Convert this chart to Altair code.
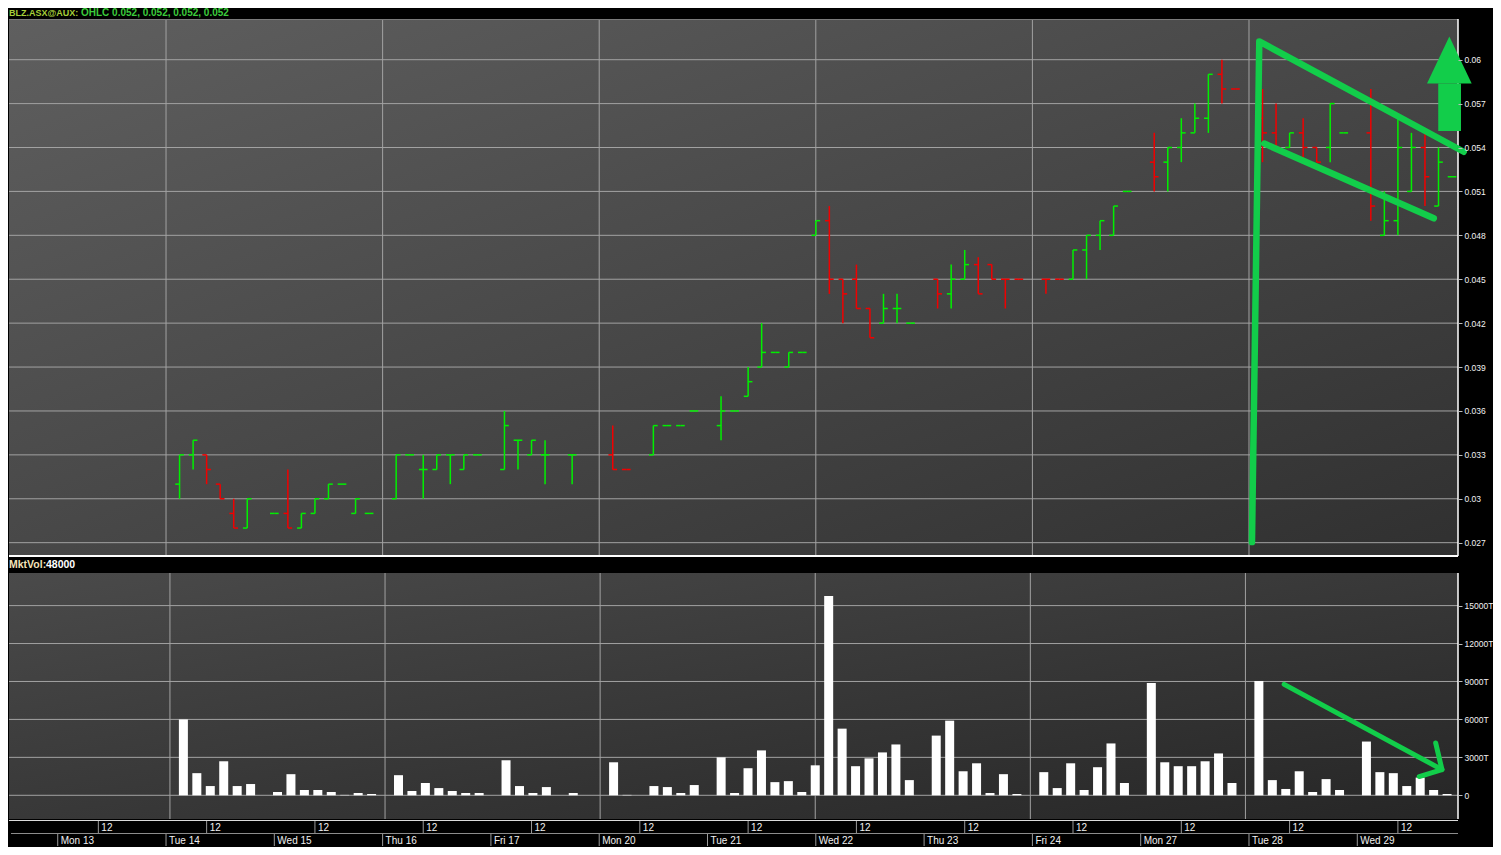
import altair as alt
import pandas as pd

# ---------------- data ----------------
TITLE_SYMBOL = "BLZ.ASX@AUX:"
TITLE_OHLC = "OHLC 0.052, 0.052, 0.052, 0.052"
VOL_LABEL = "MktVol:"
VOL_VALUE = "48000"

day_labels = ["Mon 13", "Tue 14", "Wed 15", "Thu 16", "Fri 17", "Mon 20", "Tue 21",
              "Wed 22", "Thu 23", "Fri 24", "Mon 27", "Tue 28", "Wed 29"]
midday_label = "12"
grid_days = [1, 3, 5, 7, 9, 11]          # vertical grid lines at start of these days

# bar slot index (8 slots per trading day, Mon 13 starts at slot 0)
slot = [9, 10, 11, 12, 13, 14,
        16, 17, 18, 19, 20, 21, 22, 23,
        25, 26, 27, 28, 29, 30, 31,
        33, 34, 35, 36, 38,
        41, 42, 44, 45, 46, 47,
        49, 50, 51, 52, 53, 54, 55, 56, 57, 58, 59, 60, 61, 62, 63,
        65, 66, 67, 68, 69, 70, 71,
        73, 74, 75, 76, 77, 78, 79,
        81, 82, 83, 84, 85, 86, 87,
        89, 90, 91, 92, 93, 94, 95,
        97, 98, 99, 100, 101, 102, 103]

opens = [0.031, 0.033, 0.033, 0.031, 0.029, 0.028,
         0.029, 0.029, 0.028, 0.029, 0.030, 0.031, 0.029, 0.029,
         0.030, 0.033, 0.032, 0.032, 0.033, 0.032, 0.033,
         0.032, 0.034, 0.033, 0.033, 0.033,
         0.033, 0.032, 0.033, 0.035, 0.035, 0.036,
         0.035, 0.036, 0.037, 0.039, 0.040, 0.039, 0.040, 0.048, 0.049, 0.045, 0.045, 0.043, 0.042, 0.043, 0.042,
         0.045, 0.044, 0.045, 0.046, 0.046, 0.045, 0.045,
         0.045, 0.045, 0.045, 0.047, 0.048, 0.048, 0.051,
         0.053, 0.053, 0.054, 0.055, 0.056, 0.059, 0.058,
         0.056, 0.055, 0.054, 0.055, 0.054, 0.054, 0.055,
         0.055, 0.048, 0.049, 0.051, 0.054, 0.050, 0.052]
highs = [0.033, 0.034, 0.033, 0.031, 0.030, 0.030,
         0.029, 0.032, 0.029, 0.030, 0.031, 0.031, 0.030, 0.029,
         0.033, 0.033, 0.033, 0.033, 0.033, 0.033, 0.033,
         0.036, 0.034, 0.034, 0.034, 0.033,
         0.035, 0.032, 0.035, 0.035, 0.035, 0.036,
         0.037, 0.036, 0.039, 0.042, 0.040, 0.040, 0.040, 0.049, 0.050, 0.045, 0.046, 0.043, 0.044, 0.044, 0.042,
         0.045, 0.046, 0.047, 0.0465, 0.046, 0.045, 0.045,
         0.045, 0.045, 0.047, 0.048, 0.049, 0.050, 0.051,
         0.055, 0.054, 0.056, 0.057, 0.059, 0.060, 0.058,
         0.058, 0.057, 0.055, 0.056, 0.054, 0.057, 0.055,
         0.058, 0.051, 0.056, 0.055, 0.055, 0.054, 0.052]
lows = [0.030, 0.032, 0.031, 0.030, 0.028, 0.028,
        0.029, 0.028, 0.028, 0.029, 0.030, 0.031, 0.029, 0.029,
        0.030, 0.033, 0.030, 0.032, 0.031, 0.032, 0.033,
        0.032, 0.032, 0.033, 0.031, 0.031,
        0.032, 0.032, 0.033, 0.035, 0.035, 0.036,
        0.034, 0.036, 0.037, 0.039, 0.040, 0.039, 0.040, 0.048, 0.044, 0.042, 0.043, 0.041, 0.042, 0.042, 0.042,
        0.043, 0.043, 0.045, 0.044, 0.045, 0.043, 0.045,
        0.044, 0.045, 0.045, 0.045, 0.047, 0.048, 0.051,
        0.051, 0.051, 0.053, 0.055, 0.055, 0.057, 0.058,
        0.053, 0.054, 0.054, 0.053, 0.053, 0.053, 0.055,
        0.049, 0.048, 0.048, 0.051, 0.050, 0.050, 0.052]
closes = [0.033, 0.034, 0.032, 0.030, 0.028, 0.030,
          0.029, 0.028, 0.029, 0.030, 0.031, 0.031, 0.030, 0.029,
          0.033, 0.033, 0.032, 0.033, 0.033, 0.033, 0.033,
          0.035, 0.034, 0.034, 0.033, 0.033,
          0.032, 0.032, 0.035, 0.035, 0.035, 0.036,
          0.036, 0.036, 0.038, 0.040, 0.040, 0.040, 0.040, 0.049, 0.045, 0.044, 0.043, 0.041, 0.043, 0.043, 0.042,
          0.044, 0.045, 0.046, 0.044, 0.045, 0.045, 0.045,
          0.045, 0.045, 0.047, 0.048, 0.049, 0.050, 0.051,
          0.052, 0.054, 0.055, 0.056, 0.059, 0.058, 0.058,
          0.055, 0.054, 0.055, 0.054, 0.053, 0.057, 0.055,
          0.050, 0.049, 0.054, 0.054, 0.052, 0.053, 0.052]
dirs = ["u", "u", "d", "d", "d", "u",
        "u", "d", "u", "u", "u", "u", "u", "u",
        "u", "u", "u", "u", "u", "u", "u",
        "u", "u", "u", "u", "u",
        "d", "d", "u", "u", "u", "u",
        "u", "u", "u", "u", "u", "u", "u", "u", "d", "d", "d", "d", "u", "u", "u",
        "d", "u", "u", "d", "d", "d", "d",
        "d", "d", "u", "u", "u", "u", "u",
        "d", "u", "u", "u", "u", "d", "d",
        "d", "d", "u", "d", "d", "u", "u",
        "d", "u", "u", "u", "d", "u", "u"]
vols = [6000, 1750, 730, 2690, 730, 890,
        260, 1670, 420, 420, 260, 30, 180, 100,
        1590, 340, 970, 570, 340, 180, 180,
        2770, 730, 180, 650, 180,
        2610, 30, 730, 650, 180, 810,
        3000, 180, 2140, 3550, 1040, 1120, 260, 2370, 15760, 5270, 2300, 2920, 3390, 4020, 1200,
        4720, 5900, 1900, 2530, 180, 1670, 100,
        1830, 570, 2530, 420, 2220, 4100, 970,
        8870, 2610, 2300, 2300, 2690, 3310, 970,
        9030, 1200, 500, 1900, 260, 1280, 420,
        4250, 1830, 1750, 730, 1400, 420, 100]

price_ticks = [0.027, 0.030, 0.033, 0.036, 0.039, 0.042, 0.045, 0.048, 0.051, 0.054, 0.057, 0.060]
vol_ticks = [0, 3000, 6000, 9000, 12000, 15000]

# hand-drawn annotations (data coordinates: slot, price / volume)
flag_group = ["pole", "pole", "pole", "low", "low"]
flag_order = [0, 1, 2, 0, 1]
flag_slot = [88.22, 88.76, 103.86, 89.13, 101.65]
flag_price = [0.02704, 0.06125, 0.05371, 0.05427, 0.04916]
head_slot = [101.15, 102.80, 104.45]
head_top = [0.05837, 0.06159, 0.05837]
head_base = [0.05837, 0.05837, 0.05837]
shaft_slot = [101.98]
shaft_slot2 = [103.66]
shaft_top = [0.05837]
shaft_bottom = [0.05513]
varrow_group = ["line", "line", "head", "head", "head"]
varrow_order = [0, 1, 0, 1, 2]
varrow_slot = [90.88, 102.62, 102.15, 102.62, 100.93]
varrow_vol = [8773, 2031, 4141, 2031, 1484]

# ---------------- layout / style ----------------
W = 1449
XDOM = [-3.6, 103.44]
H1, PDOM = 537, [0.02609, 0.06278]
VBAR = 16                      # black label bar on top of the volume view
VPLOT, VLO, VHI = 246, -1875, 17578
H2 = VBAR + VPLOT
VDOM = [VLO, VHI + VBAR * (VHI - VLO) / VPLOT]
H3 = 26
GREEN = "#12cd4a"
GRID = "#a2a2a2"
FONT = "Liberation Sans"

xs = alt.Scale(domain=XDOM, nice=False, zero=False)
ysp = alt.Scale(domain=PDOM, nice=False, zero=False)
ysv = alt.Scale(domain=VDOM, nice=False, zero=False)
dir_scale = alt.Scale(domain=["u", "d"], range=["#00f000", "#f00000"])

axis_style = dict(orient="right", grid=False, domain=False,
                  tickColor="#bbbbbb", tickSize=4, labelColor="#f2f2f2", labelFont=FONT,
                  labelFontSize=8.5, labelPadding=2, labelOverlap=False, zindex=1)
ax_p = alt.Axis(values=price_ticks, labelExpr="format(datum.value, '.3~f')", **axis_style)
ax_v = alt.Axis(values=vol_ticks, labelExpr="datum.value == 0 ? '0' : datum.value + 'T'", **axis_style)

one = pd.DataFrame({"k": [0]})
ohlc = pd.DataFrame({"p": slot, "o": opens, "h": highs, "l": lows, "c": closes, "d": dirs})
vdf = pd.DataFrame({"p": slot, "v": vols})
gdf = pd.DataFrame({"day": grid_days})
ddf = pd.DataFrame({"day": list(range(len(day_labels))), "label": day_labels})
mdf = pd.DataFrame({"day": list(range(len(day_labels))), "label": [midday_label] * len(day_labels)})


def X(field):
    return alt.X(field, scale=xs, axis=None)


def background(y0, y1, c0, c1):
    grad = alt.LinearGradient(gradient="linear",
                              stops=[alt.GradientStop(color=c0, offset=0),
                                     alt.GradientStop(color=c1, offset=1)],
                              x1=0, y1=0, x2=1, y2=1)
    return alt.Chart(one).mark_rect(color=grad).encode(
        x=alt.value(0), x2=alt.value(W), y=alt.value(y0), y2=alt.value(y1))


def vgrid(y0, y1):
    return alt.Chart(gdf).transform_calculate(p="datum.day * 8").mark_rule(
        color=GRID, strokeWidth=1).encode(x=X("p:Q"), y=alt.value(y0), y2=alt.value(y1))


def border(y0, y1):
    return alt.Chart(one).mark_rule(color="#ffffff", strokeWidth=1.5).encode(
        x=alt.value(W), y=alt.value(y0), y2=alt.value(y1))


# ---------------- price panel ----------------
p_bg = background(0, H1, "#5f5f5f", "#303030")
p_hgrid = alt.Chart(pd.DataFrame({"t": price_ticks})).mark_rule(color=GRID, strokeWidth=1).encode(
    y=alt.Y("t:Q", scale=ysp, axis=ax_p, title=None), x=alt.value(0), x2=alt.value(W))
p_top = alt.Chart(one).mark_rule(color="#7a7a7a", strokeWidth=1).encode(
    x=alt.value(0), x2=alt.value(W), y=alt.value(0.5))
p_bottom = alt.Chart(one).mark_rule(color="#ffffff", strokeWidth=2).encode(
    x=alt.value(0), x2=alt.value(W), y=alt.value(H1))

col = alt.Color("d:N", scale=dir_scale, legend=None)
hl = alt.Chart(ohlc).mark_rule(strokeWidth=1.5).encode(
    x=X("p:Q"), y=alt.Y("l:Q", scale=ysp, axis=ax_p, title=None), y2="h:Q", color=col)
op = alt.Chart(ohlc).transform_calculate(pl="datum.p - 0.32").mark_rule(strokeWidth=1.5).encode(
    x=X("pl:Q"), x2="p:Q", y=alt.Y("o:Q", scale=ysp, axis=ax_p, title=None), color=col)
cl = alt.Chart(ohlc).transform_calculate(pr="datum.p + 0.32").mark_rule(strokeWidth=1.5).encode(
    x=X("p:Q"), x2="pr:Q", y=alt.Y("c:Q", scale=ysp, axis=ax_p, title=None), color=col)

flag = alt.Chart(pd.DataFrame({"g": flag_group, "i": flag_order, "p": flag_slot, "v": flag_price})).mark_line(
    color=GREEN, strokeWidth=6.5, strokeCap="round", strokeJoin="round").encode(
    x=X("p:Q"), y=alt.Y("v:Q", scale=ysp, axis=ax_p, title=None), detail="g:N", order="i:Q")
head = alt.Chart(pd.DataFrame({"p": head_slot, "t": head_top, "b": head_base})).mark_area(
    color=GREEN, opacity=1).encode(
    x=X("p:Q"), y=alt.Y("t:Q", scale=ysp, axis=ax_p, title=None, stack=None), y2="b:Q")
shaft = alt.Chart(pd.DataFrame({"p": shaft_slot, "p2": shaft_slot2, "t": shaft_top, "b": shaft_bottom})).mark_rect(
    color=GREEN).encode(x=X("p:Q"), x2="p2:Q", y=alt.Y("t:Q", scale=ysp, axis=ax_p, title=None), y2="b:Q")

t_sym = alt.Chart(one).mark_text(align="left", baseline="middle", font=FONT, fontSize=9,
                                 fontWeight="bold", color="#a6cf3a").encode(
    x=alt.value(0), y=alt.value(-6), text=alt.value(TITLE_SYMBOL))
t_ohlc = alt.Chart(one).mark_text(align="left", baseline="middle", font=FONT, fontSize=10,
                                  fontWeight="bold", color="#3ccc3c").encode(
    x=alt.value(72), y=alt.value(-6), text=alt.value(TITLE_OHLC))

price = alt.layer(p_bg, vgrid(0, H1), p_hgrid, p_top, hl, op, cl, border(0, H1), p_bottom,
                  flag, head, shaft, t_sym, t_ohlc).properties(width=W, height=H1)

# ---------------- volume panel ----------------
v_bg = background(VBAR, H2, "#4a4a4a", "#262626")
v_hgrid = alt.Chart(pd.DataFrame({"t": vol_ticks})).mark_rule(color=GRID, strokeWidth=1).encode(
    y=alt.Y("t:Q", scale=ysv, axis=ax_v, title=None), x=alt.value(0), x2=alt.value(W))
bars = alt.Chart(vdf).mark_bar(size=9, color="#ffffff").encode(
    x=X("p:Q"), y=alt.Y("v:Q", scale=ysv, axis=ax_v, title=None, stack=None), y2=alt.datum(0))
varrow = alt.Chart(pd.DataFrame({"g": varrow_group, "i": varrow_order, "p": varrow_slot, "v": varrow_vol})).mark_line(
    color=GREEN, strokeWidth=5, strokeCap="round", strokeJoin="round").encode(
    x=X("p:Q"), y=alt.Y("v:Q", scale=ysv, axis=ax_v, title=None), detail="g:N", order="i:Q")
t_vl = alt.Chart(one).mark_text(align="left", baseline="middle", font=FONT, fontSize=10.5,
                                fontWeight="bold", color="#f3e2b8").encode(
    x=alt.value(0), y=alt.value(VBAR / 2), text=alt.value(VOL_LABEL))
t_vv = alt.Chart(one).mark_text(align="left", baseline="middle", font=FONT, fontSize=10.5,
                                fontWeight="bold", color="#ffffff").encode(
    x=alt.value(37), y=alt.value(VBAR / 2), text=alt.value(VOL_VALUE))

volc = alt.layer(v_bg, vgrid(VBAR, H2), v_hgrid, bars, border(VBAR, H2), varrow,
                 t_vl, t_vv).properties(width=W, height=H2)

# ---------------- time strip ----------------
s_top = alt.Chart(one).mark_rule(color="#dcdcdc", strokeWidth=1.2).encode(
    x=alt.value(0), x2=alt.value(W), y=alt.value(0.5))
s_mid = alt.Chart(one).mark_rule(color="#8c8c8c", strokeWidth=1).encode(
    x=alt.value(2), x2=alt.value(W), y=alt.value(13.5))
m_sep = alt.Chart(mdf).transform_calculate(p="datum.day * 8 + 3").mark_rule(
    color="#9a9a9a", strokeWidth=1).encode(x=X("p:Q"), y=alt.value(1), y2=alt.value(13))
m_txt = alt.Chart(mdf).transform_calculate(p="datum.day * 8 + 3").mark_text(
    align="left", baseline="middle", dx=3, font=FONT, fontSize=10, color="#f0f0f0").encode(
    x=X("p:Q"), y=alt.value(7.5), text="label:N")
d_sep = alt.Chart(ddf).transform_calculate(p="datum.day * 8").mark_rule(
    color="#9a9a9a", strokeWidth=1).encode(x=X("p:Q"), y=alt.value(14), y2=alt.value(H3))
d_txt = alt.Chart(ddf).transform_calculate(p="datum.day * 8").mark_text(
    align="left", baseline="middle", dx=3, font=FONT, fontSize=10, color="#f0f0f0").encode(
    x=X("p:Q"), y=alt.value(20.5), text="label:N")

strip = alt.layer(s_top, s_mid, m_sep, m_txt, d_sep, d_txt).properties(width=W, height=H3)

chart = alt.vconcat(price, volc, strip, spacing=1, bounds="flush").properties(
    padding=0, background="#000000").configure_view(strokeWidth=0)

chart.save("out.html", embed_options={"renderer": "svg", "actions": False})
